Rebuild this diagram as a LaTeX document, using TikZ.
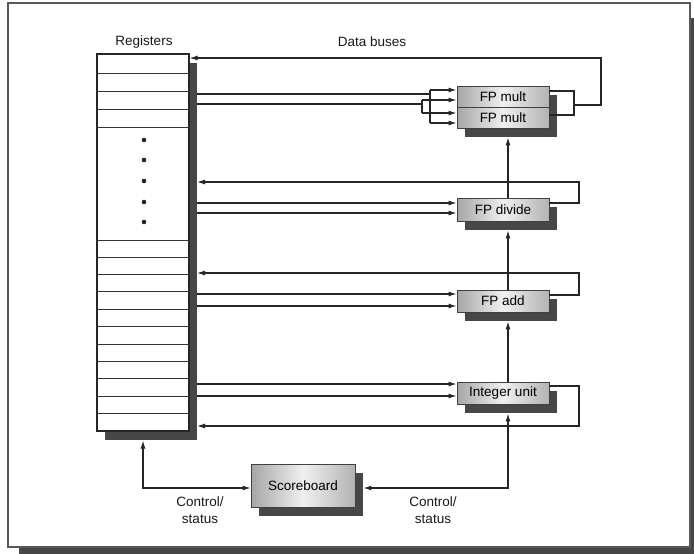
\documentclass[tikz,border=0pt]{standalone}
\usepackage{fontspec}
\setmainfont{Liberation Sans}
\usetikzlibrary{shadows,arrows.meta,calc}
\begin{document}
\begin{tikzpicture}[x=1pt,y=-1pt,
  font=\fontsize{13.5}{17}\selectfont,
  shd/.style={drop shadow={shadow xshift=8pt, shadow yshift=-9pt, fill=black!72, opacity=1}},
  unitbox/.style={draw=black!75, line width=0.9pt, left color=gray!70, right color=gray!60, middle color=gray!12,
     minimum width=92pt, inner sep=0pt, shd},
  bus/.style={line width=1.1pt, draw=black!85},
  tip/.style={-{Latex[length=8pt,width=5pt]}},
  arr/.style={bus, tip},
  arrboth/.style={bus, {Latex[length=8pt,width=5pt]}-{Latex[length=8pt,width=5pt]}},
  rowline/.style={line width=0.9pt, draw=black!80},
  dotm/.style={fill=black!85, draw=none},
  lbl/.style={align=center, text=black!90}
]
\useasboundingbox (0,0) rectangle (694,554);
% frame with shadow
\fill[black!72] (19,18) rectangle (700,560);
\draw[draw=black!65, line width=1.2pt, fill=white] (8,3) rectangle (690,547);

% registers
\node[draw=black!85, line width=1.1pt, fill=white, minimum width=92pt, minimum height=377pt, inner sep=0pt, shd] (reg) at (143,242.5) {};
\foreach \yy in {73,91,109,127,240,257,274,291,309,326,344,361,378,396,413}
  \draw[rowline] (reg.west |- 0,\yy) -- (reg.east |- 0,\yy);
\foreach \yy in {140,160,181,202,222}
  \fill[dotm] (144,\yy) circle (2.3pt);
\coordinate (R) at (197,0);

% units
\node[unitbox, minimum height=21pt] (m1) at (503,96.5) {FP mult};
\node[unitbox, minimum height=21pt] (m2) at (503,117.5) {FP mult};
\node[unitbox, minimum height=23pt] (dv) at (503,209.5) {FP divide};
\node[unitbox, minimum height=22pt] (ad) at (503,301) {FP add};
\node[unitbox, minimum height=22pt] (it) at (503,393) {Integer unit};
\node[unitbox, minimum width=104pt, minimum height=43pt] (sb) at (303,485.5) {Scoreboard};

% labels
\node[lbl] (lreg) at (144,42) {Registers};
\node[lbl] (lbus) at (372,42) {Data buses};
\node[lbl] (lcs1) at (200,510) {Control/\\status};
\node[lbl] (lcs2) at (433,510) {Control/\\status};

% FP mult inputs
\draw[bus] (R |- 0,94) -- (430,94);
\draw[bus] (430,90) -- (430,123);
\draw[arr] (430,90) -- (m1.west |- 0,90);
\draw[arr] (430,123) -- (m2.west |- 0,123);
\draw[bus] (R |- 0,104) -- (422,104);
\draw[bus] (422,100) -- (422,113);
\draw[arr] (422,100) -- (m1.west |- 0,100);
\draw[arr] (422,113) -- (m2.west |- 0,113);
% FP mult outputs
\draw[bus] (m1.east |- 0,91) -- (574,91) -- (574,115) -- (m2.east |- 0,115);
\draw[arr] (574,105) -- (601,105) -- (601,58) -- (reg.east |- 0,58);

% FP divide
\draw[arr] (dv.east |- 0,203) -- (579,203) -- (579,182) -- (R |- 0,182);
\draw[arr] (R |- 0,203) -- (dv.west |- 0,203);
\draw[arr] (R |- 0,213) -- (dv.west |- 0,213);
% FP add
\draw[arr] (ad.east |- 0,295) -- (579,295) -- (579,273) -- (R |- 0,273);
\draw[arr] (R |- 0,294) -- (ad.west |- 0,294);
\draw[arr] (R |- 0,306) -- (ad.west |- 0,306);
% Integer unit
\draw[arr] (it.east |- 0,386) -- (579,386) -- (579,426) -- (R |- 0,426);
\draw[arr] (R |- 0,384) -- (it.west |- 0,384);
\draw[arr] (R |- 0,396) -- (it.west |- 0,396);

% vertical chain
\draw[arr] (it.north -| 508,0) -- ($(ad.south -| 508,0)+(0,9)$);
\draw[arr] (ad.north -| 508,0) -- ($(dv.south -| 508,0)+(0,9)$);
\draw[arr] (dv.north -| 508,0) -- ($(m2.south -| 508,0)+(0,9)$);

% scoreboard links
\draw[arrboth] ($(reg.south)+(0,9)$) -- (reg.south |- 0,488) -- (sb.west |- 0,488);
\draw[arrboth] ($(sb.east |- 0,488)+(8,0)$) -- (508,488) -- ($(it.south -| 508,0)+(0,9)$);
\end{tikzpicture}
\end{document}
